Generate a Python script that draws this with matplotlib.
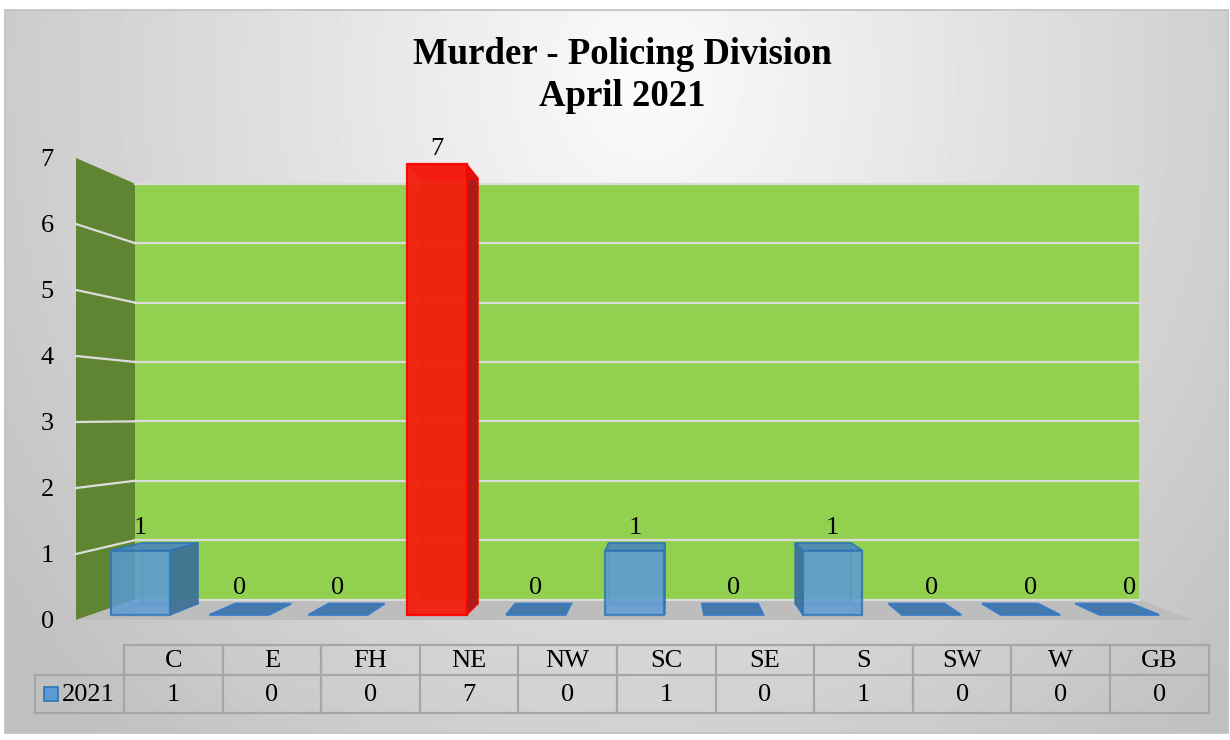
import matplotlib
matplotlib.use('Agg')
import matplotlib.pyplot as plt
import numpy as np
from matplotlib.patches import Polygon, Rectangle

divisions = ['C', 'E', 'FH', 'NE', 'NW', 'SC', 'SE', 'S', 'SW', 'W', 'GB']
murders_2021 = [1, 0, 0, 7, 0, 1, 0, 1, 0, 0, 0]
series_name = '2021'
highlight = 'NE'
title_lines = ['Murder - Policing Division', 'April 2021']
y_ticks = list(range(8))

SERIF = 'Liberation Serif'
plt.rcParams['font.family'] = [SERIF, 'DejaVu Serif']
FS = 19

# colours (excel-ish)
BLUE, BLUE_EDGE, BLUE_SIDE, BLUE_TOP = '#5B9BD5', '#2E75B6', '#3D6F92', '#4A86B8'
RED, RED_EDGE, RED_SIDE, RED_TOP = '#F41C0C', '#FF0000', '#A81010', '#E01010'
WALL_BACK, WALL_SIDE, FLOOR, GRID = '#92D050', '#5F8532', '#BDBDBD', '#DCDCDC'

# fake perspective: vanishing point in data units, back wall drawn at scale K
VX, VY, K = 5.32, 3.1, 0.9
Z_FRONT, Z_BACK = 0.25, 0.8
HALF = 0.3


def proj(x, v, z):
    s = 1 - (1 - K) * z
    return VX + (x - VX) * s, VY + (v - VY) * s


def face(ax, pts, fc, ec, alpha=1.0, lw=1.2, z=3):
    ax.add_patch(Polygon([proj(*p) for p in pts], closed=True, facecolor=fc,
                         edgecolor=ec, alpha=alpha, lw=lw, zorder=z))


fig = plt.figure(figsize=(12.3, 7.4), dpi=100)

# background, title and data table live in a pixel-coordinate axes
bg = fig.add_axes([0, 0, 1, 1])
bg.set_xlim(0, 1230)
bg.set_ylim(740, 0)
bg.axis('off')

yy, xx = np.mgrid[0:723, 0:1223]
d = np.sqrt(((xx - 640) / 720.0) ** 2 + ((yy - 70) / 820.0) ** 2)
grad = np.clip(0.985 - 0.21 * d, 0.75, 1.0)
bg.imshow(grad, cmap='gray', vmin=0, vmax=1, extent=(5, 1228, 733, 10),
          aspect='auto', zorder=0)
bg.add_patch(Rectangle((5, 10), 1223, 723, fill=False, edgecolor='#C0C0C0', lw=1.2, zorder=1))

bg.text(622, 55, title_lines[0], ha='center', va='center', fontsize=26.5, fontweight='bold')
bg.text(622, 97, title_lines[1], ha='center', va='center', fontsize=26.5, fontweight='bold')

# data table under the chart
t_left, col_w = 124, 98.6
r_top, r_mid, r_bot = 645, 675, 713
leg_left = 35
n = len(divisions)
tcol = '#A6A6A6'
t_right = t_left + n * col_w
bg.plot([t_left, t_right], [r_top, r_top], color=tcol, lw=1.6)
bg.plot([leg_left, t_right], [r_mid, r_mid], color=tcol, lw=1.6)
bg.plot([leg_left, t_right], [r_bot, r_bot], color=tcol, lw=1.6)
bg.plot([leg_left, leg_left], [r_mid, r_bot], color=tcol, lw=1.6)
for i in range(n + 1):
    x = t_left + i * col_w
    bg.plot([x, x], [r_top, r_bot], color=tcol, lw=1.6)
for i, (name, val) in enumerate(zip(divisions, murders_2021)):
    cx = t_left + (i + 0.5) * col_w
    bg.text(cx, (r_top + r_mid) / 2 + 1, name, ha='center', va='center', fontsize=FS)
    bg.text(cx, (r_mid + r_bot) / 2 + 1, str(val), ha='center', va='center', fontsize=FS)
bg.add_patch(Rectangle((44, 687), 14, 14, facecolor=BLUE, edgecolor=BLUE_EDGE, lw=1.2))
bg.text(62, (r_mid + r_bot) / 2 + 1, series_name, ha='left', va='center', fontsize=FS)

# the 3d-looking chart, front plane in data units
ax = fig.add_axes([76 / 1230, 120 / 740, 1116 / 1230, 462 / 740])
ax.set_xlim(-0.5, n - 0.5)
ax.set_ylim(0, y_ticks[-1])
ax.patch.set_visible(False)
for sp in ax.spines.values():
    sp.set_visible(False)
ax.set_xticks([])
ax.set_yticks(y_ticks)
ax.tick_params(axis='y', length=0, pad=16, labelsize=FS)

x0, x1, top = -0.5, n - 0.5, y_ticks[-1]
face(ax, [(x0, 0, 0), (x0, top, 0), (x0, top, 1), (x0, 0, 1)], WALL_SIDE, 'none', z=1)
face(ax, [(x0, 0, 1), (x1, 0, 1), (x1, top, 1), (x0, top, 1)], WALL_BACK, 'none', z=1)
face(ax, [(x0, 0, 0), (x1, 0, 0), (x1, 0, 1), (x0, 0, 1)], FLOOR, 'none', z=1)

for v in y_ticks:
    a, b = proj(x0, v, 1), proj(x1, v, 1)
    ax.plot([a[0], b[0]], [a[1], b[1]], color=GRID, lw=1.6, zorder=2, clip_on=False)
    if 0 < v < top:
        c = proj(x0, v, 0)
        ax.plot([c[0], a[0]], [c[1], a[1]], color=GRID, lw=1.6, zorder=2, clip_on=False)

for i, (name, v) in enumerate(zip(divisions, murders_2021)):
    red = name == highlight
    fc, ec = (RED, RED_EDGE) if red else (BLUE, BLUE_EDGE)
    side_c, top_c = (RED_SIDE, RED_TOP) if red else (BLUE_SIDE, BLUE_TOP)
    front_alpha = 0.93 if red else 0.8
    l, r = i - HALF, i + HALF
    zf, zb = Z_FRONT, Z_BACK
    if v == 0:
        face(ax, [(l, 0, zf), (r, 0, zf), (r, 0, zb), (l, 0, zb)], '#4478A8', '#3A7BC8', lw=1.4)
    else:
        # back and hidden faces first, faint
        face(ax, [(l, 0, zb), (r, 0, zb), (r, v, zb), (l, v, zb)], fc, ec, alpha=0.35)
        visible_x = r if i < VX else l
        hidden_x = l if i < VX else r
        face(ax, [(hidden_x, 0, zf), (hidden_x, 0, zb), (hidden_x, v, zb), (hidden_x, v, zf)],
             fc, ec, alpha=0.2)
        face(ax, [(visible_x, 0, zf), (visible_x, 0, zb), (visible_x, v, zb), (visible_x, v, zf)],
             side_c, ec, alpha=0.9)
        face(ax, [(l, v, zf), (r, v, zf), (r, v, zb), (l, v, zb)], top_c, ec, alpha=0.85)
        face(ax, [(l, 0, zf), (r, 0, zf), (r, v, zf), (l, v, zf)], fc, ec,
             alpha=front_alpha, lw=1.6, z=4)
    lx = proj(i, v, zf)[0]
    ly = max(proj(i, v, zf)[1], proj(i, v, zb)[1])
    ax.annotate(str(v), (lx, ly), xytext=(0, 3), textcoords='offset points',
                ha='center', va='bottom', fontsize=FS, zorder=5)

fig.savefig('out.png', dpi=100)
